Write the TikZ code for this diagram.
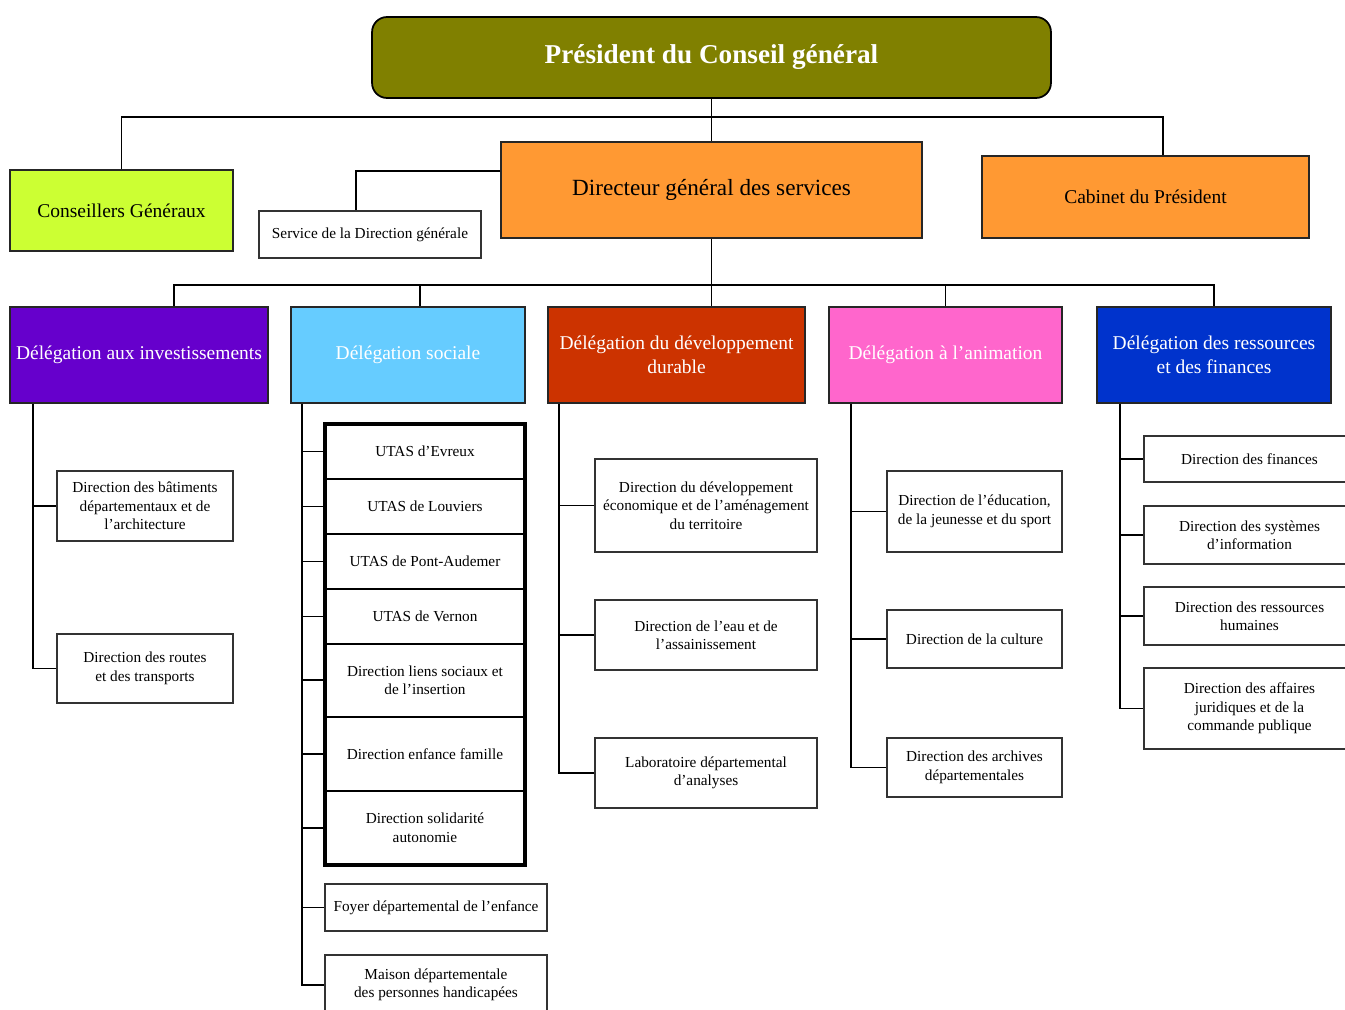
\documentclass[tikz,border=0pt]{standalone}
\usepackage{fontspec}
\setmainfont{Liberation Serif}
\usetikzlibrary{positioning}

\definecolor{olivebox}{HTML}{808000}
\definecolor{limebox}{HTML}{CCFF33}
\definecolor{orangebox}{HTML}{FF9933}
\definecolor{purplebox}{HTML}{6600CC}
\definecolor{skybox}{HTML}{66CCFF}
\definecolor{rustbox}{HTML}{CC3300}
\definecolor{pinkbox}{HTML}{FF66CC}
\definecolor{bluebox}{HTML}{0033CC}

\begin{document}
\begin{tikzpicture}[x=0.02cm, y=-0.02cm,
        box/.style={draw=black!80, line width=0.8pt, align=center, inner sep=1pt, font=\fontsize{8.7}{10.5}\selectfont},
        cell/.style={box, draw=black, line width=1.1pt, minimum width=4cm, outer sep=0pt},
        deleg/.style={draw=black!85, line width=1.1pt, align=center, text=white, minimum height=1.92cm, font=\fontsize{11.1}{13.5}\selectfont},
        top/.style={draw=black!85, line width=0.9pt, align=center, font=\fontsize{11.1}{13}\selectfont},
        link/.style={line width=1.1pt}]
    \useasboundingbox (0,0) rectangle (1345,1010);

    % top level
    \node[draw, line width=1pt, rounded corners=0.3cm, fill=olivebox, minimum width=13.58cm, minimum height=1.62cm, text=white, font=\fontsize{15.5}{18}\selectfont\bfseries] (pres) at (711.5,57.5) {Président du Conseil général};
    \node[top, fill=limebox, minimum width=4.46cm, minimum height=1.62cm] (cons) at (121.5,210.5) {Conseillers Généraux};
    \node[top, fill=orangebox, minimum width=8.42cm, minimum height=1.92cm, font=\fontsize{13.2}{15}\selectfont] (dgs) at (711.5,190) {Directeur général des services};
    \node[top, fill=orangebox, minimum width=6.54cm, minimum height=1.64cm] (cab) at (1145.5,197) {Cabinet du Président};
    \node[box, minimum width=4.44cm, minimum height=0.94cm] (serv) at (370,234.5) {Service de la Direction générale};

    \coordinate (topbar) at (711,117);
    \draw[link] (pres) -- (dgs);
    \draw[link] (cons.north) |- (topbar) -| ([xshift=0.35cm]cab.north);
    \draw[link] ([yshift=0.38cm]dgs.west) -| ([xshift=-0.28cm]serv.north);

    % delegations
    \node[deleg, fill=purplebox, minimum width=5.16cm] (inv) at (139,355) {Délégation aux investissements};
    \node[deleg, fill=skybox, minimum width=4.68cm] (soc) at (408,355) {Délégation sociale};
    \node[deleg, fill=rustbox, minimum width=5.14cm] (dev) at (676.5,355) {Délégation du développement\\durable};
    \node[deleg, fill=pinkbox, minimum width=4.66cm] (ani) at (945.5,355) {Délégation à l’animation};
    \node[deleg, fill=bluebox, minimum width=4.68cm] (res) at (1214,355) {Délégation des ressources\\et des finances};

    \coordinate (delbar) at (711,285);
    \draw[link] (dgs.south) -- (dgs.south |- dev.north);
    \draw[link] ([xshift=0.7cm]inv.north) |- (delbar) -| (res.north);
    \draw[link] ([xshift=0.24cm]soc.north) -- ([xshift=0.24cm]soc.north |- delbar);
    \draw[link] (ani.north) -- (ani.north |- delbar);

    % investissements
    \node[box, minimum width=3.52cm, minimum height=1.4cm] (bat) at (145,506) {Direction des bâtiments\\départementaux et de\\l’architecture};
    \node[box, minimum width=3.52cm, minimum height=1.38cm] (rou) at (145,668.5) {Direction des routes\\et des transports};
    \coordinate (invt) at ([xshift=0.48cm]inv.south west);
    \draw[link] (invt) |- (rou.west);
    \draw[link] (invt |- bat.west) -- (bat.west);

    % sociale
    \node[cell, minimum height=1.1cm] (u1) at (425,451.5) {UTAS d’Evreux};
    \node[cell, minimum height=1.1cm, below=0pt of u1] (u2) {UTAS de Louviers};
    \node[cell, minimum height=1.1cm, below=0pt of u2] (u3) {UTAS de Pont-Audemer};
    \node[cell, minimum height=1.1cm, below=0pt of u3] (u4) {UTAS de Vernon};
    \node[cell, minimum height=1.46cm, below=0pt of u4] (u5) {Direction liens sociaux et\\de l’insertion};
    \node[cell, minimum height=1.48cm, below=0pt of u5] (u6) {Direction enfance famille};
    \node[cell, minimum height=1.48cm, below=0pt of u6] (u7) {Direction solidarité\\autonomie};
    \draw[line width=2.4pt] (u1.north west) rectangle (u7.south east);
    \node[box, minimum width=4.44cm, minimum height=0.94cm] (foy) at (436,907.5) {Foyer départemental de l’enfance};
    \node[box, minimum width=4.44cm, minimum height=1.2cm] (mai) at (436,985) {Maison départementale\\des personnes handicapées};
    \coordinate (soct) at ([xshift=0.24cm]soc.south west);
    \draw[link] (soct) |- (mai.west);
    \foreach \c in {u1,u2,u3,u4,u5,u6,u7,foy}
        \draw[link] (soct |- \c.west) -- (\c.west);

    % developpement durable
    \node[box, minimum width=4.44cm, minimum height=1.86cm] (deco) at (706,505.5) {Direction du développement\\économique et de l’aménagement\\du territoire};
    \node[box, minimum width=4.44cm, minimum height=1.4cm] (eau) at (706,635) {Direction de l’eau et de\\l’assainissement};
    \node[box, minimum width=4.44cm, minimum height=1.4cm] (labo) at (706,773) {Laboratoire départemental\\d’analyses};
    \coordinate (devt) at ([xshift=0.24cm]dev.south west);
    \draw[link] (devt) |- (labo.west);
    \foreach \c in {deco,eau}
        \draw[link] (devt |- \c.west) -- (\c.west);

    % animation
    \node[box, minimum width=3.5cm, minimum height=1.62cm] (edu) at (974.5,511.5) {Direction de l’éducation,\\de la jeunesse et du sport};
    \node[box, minimum width=3.5cm, minimum height=1.16cm] (cul) at (974.5,639) {Direction de la culture};
    \node[box, minimum width=3.5cm, minimum height=1.18cm] (arc) at (974.5,767.5) {Direction des archives\\départementales};
    \coordinate (anit) at ([xshift=0.46cm]ani.south west);
    \draw[link] (anit) |- (arc.west);
    \foreach \c in {edu,cul}
        \draw[link] (anit |- \c.west) -- (\c.west);

    % ressources et finances
    \node[box, minimum width=4.22cm, minimum height=0.92cm] (fin) at (1249.5,459) {Direction des finances};
    \node[box, minimum width=4.22cm, minimum height=1.16cm] (sys) at (1249.5,535) {Direction des systèmes\\d’information};
    \node[box, minimum width=4.22cm, minimum height=1.16cm] (rh) at (1249.5,616) {Direction des ressources\\humaines};
    \node[box, minimum width=4.22cm, minimum height=1.62cm] (aff) at (1249.5,708.5) {Direction des affaires\\juridiques et de la\\commande publique};
    \coordinate (rest) at ([xshift=0.48cm]res.south west);
    \draw[link] (rest) |- (aff.west);
    \foreach \c in {fin,sys,rh}
        \draw[link] (rest |- \c.west) -- (\c.west);
\end{tikzpicture}
\end{document}
